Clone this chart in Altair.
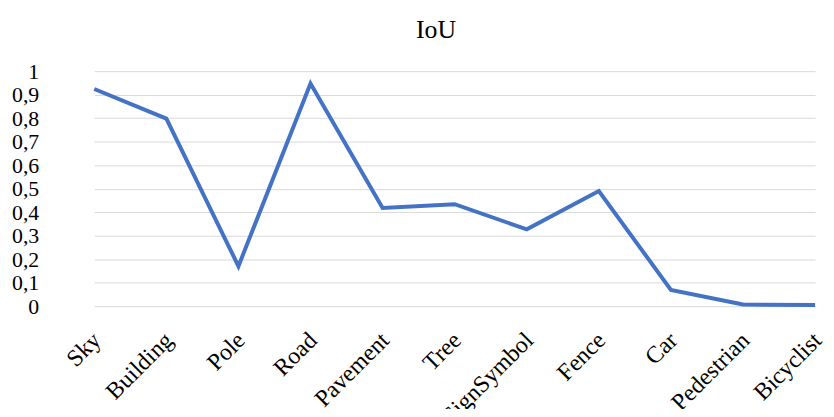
import altair as alt
import pandas as pd

categories = ["Sky", "Building", "Pole", "Road", "Pavement", "Tree",
              "SignSymbol", "Fence", "Car", "Pedestrian", "Bicyclist"]
iou = [0.924, 0.798, 0.170, 0.947, 0.418, 0.434, 0.327, 0.490, 0.069, 0.007, 0.005]
y_ticks = [0, 0.1, 0.2, 0.3, 0.4, 0.5, 0.6, 0.7, 0.8, 0.9, 1]

df = pd.DataFrame({"category": categories, "iou": iou})

FONT = "Liberation Serif"

chart = alt.Chart(df).mark_line(color="#4472C4", strokeWidth=4, strokeJoin="miter").encode(
    x=alt.X("category:N", sort=categories,
            scale=alt.Scale(type="point", range=[36, 763], padding=0),
            axis=alt.Axis(title=None, labelAngle=-45, labelAlign="right", labelBaseline="top",
                          labelPadding=22, labelOffset=-6, labelFont=FONT, labelFontSize=24,
                          labelColor="#000000", ticks=False, domain=False, grid=False)),
    y=alt.Y("iou:Q", scale=alt.Scale(domain=[0, 1], nice=False),
            axis=alt.Axis(title=None, values=y_ticks,
                          labelExpr="replace(format(datum.value, '.1~f'), '.', ',')",
                          labelFont=FONT, labelFontSize=22, labelColor="#000000",
                          labelPadding=20, ticks=False, domain=False,
                          grid=True, gridColor="#d9d9d9", gridWidth=1))
).properties(
    width=774, height=237,
    title=alt.TitleParams("IoU", font=FONT, fontSize=26, fontWeight="normal",
                          color="#000000", offset=17, anchor="start", dx=408),
    autosize=alt.AutoSizeParams(type="none"),
    padding={"left": 51, "top": 62, "right": 0, "bottom": 102},
).configure_view(stroke=None)

chart.save("out.html", embed_options={"renderer": "svg", "actions": False})
